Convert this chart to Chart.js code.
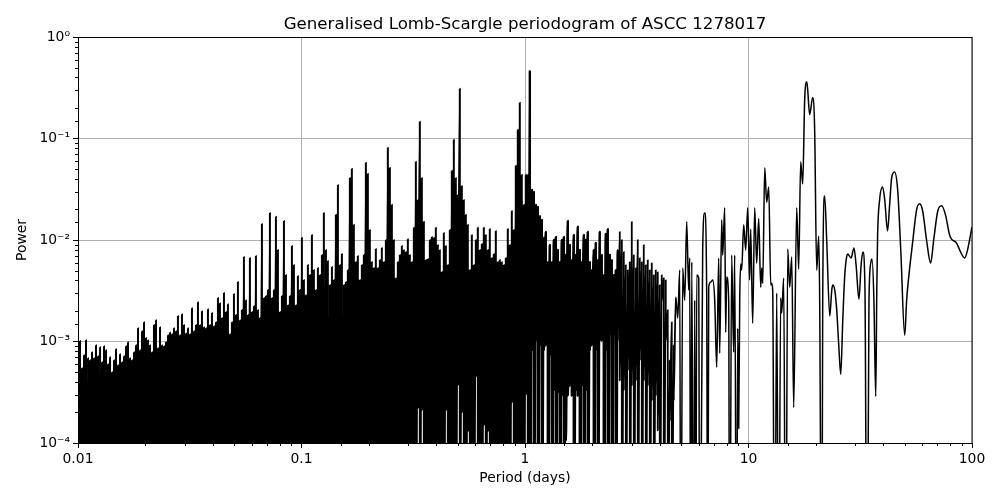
<!DOCTYPE html>
<html><head><meta charset="utf-8">
<style>html,body{margin:0;padding:0;background:#fff}canvas{display:block}</style>
<script src="https://cdn.jsdelivr.net/npm/chart.js@4"></script>
</head><body><canvas id="c" width="1000" height="500"></canvas>
<script>
const titleText = "Generalised Lomb-Scargle periodogram of ASCC 1278017";
const xLabel = "Period (days)";
const yLabel = "Power";
const xTickLabels = {"-2":"0.01","-1":"0.1","0":"1","1":"10","2":"100"};
const yTickLabels = {"-4":"10\u207B\u2074","-3":"10\u207B\u00B3","-2":"10\u207B\u00B2","-1":"10\u207B\u00B9","0":"10\u2070"};
const belowAxis = 1e-6;

const periodsA = [
.01000,.01021,.01042,.01064,.01086,
.01109,.01132,.01155,.01179,.01204,
.01229,.01255,.01281,.01307,.01335,
.01362,.01391,.01420,.01449,.01479,
.01510,.01541,.01574,.01606,.01640,
.01674,.01709,.01744,.01781,.01818,
.01855,.01894,.01933,.01974,.02015,
.02056,.02099,.02143,.02187,.02233,
.02279,.02327,.02375,.02424,.02475,
.02526,.02579,.02632,.02687,.02743,
.02800,.02858,.02918,.02979,.03041,
.03104,.03169,.03235,.03302,.03371,
.03441,.03513,.03586,.03661,.03737,
.03814,.03894,.03975,.04057,.04142,
.04228,.04316,.04406,.04498,.04592,
.04686,.04784,.04883,.04985,.05089,
.05194,.05302,.05413,.05525,.05640,
.05758,.05877,.06000,.06125,.06252,
.06382,.06515,.06651,.06789,.06931,
.07075,.07222,.07373,.07526,.07683,
.07843,.08006,.08173,.08344,.08518,
.08692,.08873,.09058,.09247,.09440];
const peaksA = [
.00103,.00101,.000544,.000732,.00103,
.000684,.000653,.000783,.000684,.000919,
.000715,.000879,.000624,.000899,.00082,
.000596,.0007,.000497,.000653,.00084,
.000583,.000749,.000624,.000715,.000899,
.000984,.000684,.000653,.000783,.000919,
.00135,.00082,.00126,.00155,.00108,
.00103,.000919,.000783,.00145,.00162,
.000859,.00138,.000919,.000899,.000984,
.00115,.00123,.00118,.00135,.00126,
.00178,.00115,.00186,.00145,.0012,
.00135,.00118,.00213,.00126,.00145,
.00244,.00145,.00199,.00138,.00135,
.00208,.00145,.00191,.00141,.00155,
.00268,.00238,.0017,.003,.00195,
.00233,.00118,.00155,.00293,.00182,
.00385,.00162,.00204,.0068,.00255,
.00182,.00665,.00195,.00222,.00695,
.00204,.0017,.0144,.00268,.0028,
.00321,.0185,.00268,.00321,.0169,
.00797,.00195,.0028,.0154,.00451,
.00228,.0028,.00873,.00566,.00228];

const periodsB = [
.09635,.09836,.1004,.1025,.1046,
.1068,.1090,.1113,.1136,.1160,
.1184,.1209,.1234,.1259,.1286,
.1312,.1340,.1368,.1396,.1425,
.1455,.1485,.1516,.1548,.1580,
.1612,.1646,.1680,.1715,.1751,
.1787,.1824,.1862,.1901,.1941,
.1981,.2022,.2064,.2107,.2151,
.2196,.2242,.2288,.2336,.2385,
.2434,.2485,.2537,.2589,.2643,
.2698,.2754,.2812,.2870,.2930,
.2991,.3053,.3117,.3182];
const peaksB = [
.00441,.00321,.0105,.00403,.00286,
.00566,.00451,.0112,.00505,.00321,
.00529,.00451,.00711,.0185,.00797,
.0062,.0036,.00541,.00403,.0177,
.0349,.00566,.00728,.0036,.00385,
.00505,.0409,.0503,.0141,.00606,
.00695,.00403,.00566,.00711,.0576,
.0449,.01256,.00606,.00529,.00815,
.00529,.00634,.00834,.00606,.01,
.081,.0514,.0222,.01,.00421,
.00606,.00711,.00873,.00797,.00762,
.0102,.00711,.00606,.0132];

const periodsD = [
.3248,.3315,.3384,.3455,.3527,.3600,
.3675,.3752,.3830,.3910,.3991,
.4073,.4158,.4245,.4333,.4423,
.4515,.4609,.4705,.4803,.4903,
.5005,.5109,.5216,.5324,.5436,
.5548,.5664,.5782,.5902,.6025,
.6150,.6278,.6409,.6542,.6678,
.6817,.6959,.7104,.7252,.7403,
.7556,.7713,.7874,.8038,.8205,
.8376,.8550,.8729,.8910,.9096,
.9285,.9478,.9676,.9877,1.008,
1.029,1.051];
const peaksD = [
.0589,.0248,.146,.0409,.0151,.00634,
.00649,.01,.0107,.0105,.0132,
.00893,.00797,.00483,.0117,.00873,
.00566,.01256,.048,.0972,.0409,
.0278,.31,.0341,.0248,.0177,
.0141,.00505,.0112,.00566,.01,
.0132,.00797,.00913,.0132,.0112,
.00797,.0128,.00665,.00728,.0123,
.00606,.00634,.00606,.00566,.00665,
.0128,.00893,.0193,.01256,.0538,
.122,.225,.0439,.0222,.0439,
.0439,.467];
const dipsD = [
1e-6,2.2e-4,1e-6,2.1e-4,1e-6,1e-6,
1e-6,1e-6,1e-6,1e-6,1e-6,
1e-6,1e-6,1e-6,1e-6,2.1e-4,
1e-6,1e-6,1e-6,1e-6,1e-6,
3.7e-4,1e-6,2e-4,1e-6,1e-6,
1.3e-4,1e-6,1e-6,1e-6,4.5e-4,
1e-6,1e-6,1e-6,1.5e-4,1e-6,
1.3e-4,1e-6,1e-6,1e-6,1e-6,
1e-6,1e-6,1e-6,1e-6,1e-6,
1e-6,1e-6,2.5e-4,1e-6,1e-6,
1e-6,1e-6,1e-6,1e-6,3e-4,
1e-6,1e-6];

const periodsC = [
1.073,1.095,1.118,
1.141,1.165,1.189,1.214,1.239,
1.265,1.291,1.318,1.346,1.374,
1.402,1.431,1.461,1.492,1.523,
1.554,1.586,1.620,1.653,1.688,
1.722,1.758,1.795,1.832,1.870,
1.909,1.949,1.989,2.031,2.073,
2.116,2.160,2.205,2.251,2.298,
2.346,2.395,2.444,2.495,2.547,
2.601,2.655,2.711,2.767,2.825,
2.883,2.943,3.004,3.067,3.131,
3.195,3.262,3.330,3.399,3.470,
3.542,3.616,3.691,3.768,3.846,
3.926,4.008,4.091,4.176,4.263,
4.352,4.443,4.535,4.630];
const peaksC = [
.0312,.0297,.0222,
.0212,.0172,.0158,.0105,.012,
.00606,.00893,.00606,.01,.0107,
.00797,.00606,.01,.0107,.00711,
.0154,.00893,.00634,.0112,.00711,
.0135,.00797,.00606,.0112,.01,
.012,.00606,.00505,.00797,.00933,
.00634,.012,.00711,.00451,.0115,
.0128,.00711,.00634,.00451,.00505,
.00797,.012,.01,.00762,.00566,
.00505,.00606,.0151,.00711,.00529,
.01,.00665,.00606,.00893,.00566,
.00634,.00505,.00592,.00451,.00505,
.00483,.0036,.00451,.00421,.00403,
.00204,.000653,.00155,.000919];
const dipsC = [
.00082,1e-6,.00103,
1e-6,.000919,1e-6,.00082,.000919,
1e-6,.000732,1e-6,.00033,1e-6,
.000315,1e-6,.000294,1e-6,.000106,
.000294,.000369,.000294,1e-6,.00033,
.000294,1e-6,.000369,1e-6,.00033,
1e-6,.00082,.000919,1e-6,.00082,
1e-6,.00103,.00103,1e-6,.00082,
1e-6,.00115,1e-6,.00115,1e-6,
.00103,.000414,1e-6,.00033,1e-6,
.00052,1e-6,.000369,1e-6,.000414,
1e-6,.000653,1e-6,.000414,1e-6,
.000369,1e-6,.000263,1e-6,.000294,
.000133,1e-6,.00255,1e-6,.00103,
1e-6,.000167,1e-6,.000263];

const periodsTail = [
4.726,4.824,4.924,4.975,5.078,5.183,5.291,5.401,5.456,5.513,5.573,5.688,5.746,5.806,5.866,5.988,6.05,
6.238,6.367,6.50,6.57,6.637,6.775,6.916,7.06,7.207,7.357,7.433,7.587,7.665,7.825,7.905,7.987,8.153,8.237,
8.408,8.583,8.672,8.852,8.948,9.04,9.134,9.228,9.32,9.517,9.714,9.919,10.12,10.23,10.44,10.66,10.88,11.11,
11.34,11.46,11.58,11.82,12.06,12.32,12.57,12.70,12.83,13.10,13.37,13.65,13.93,14.08,14.37,14.67,14.98,15.29,
15.61,15.93,16.43,16.77,17.12,17.48,17.84,18.22,18.40,18.78,19.37,19.77,20.19,20.61,20.82,21.26,21.48,21.92,
22.38,23.1,23.58,23.82,24.32,24.82,25.34,25.87,26.41,26.96,27.52,27.8,28.76,29.65,30.3,31.2,31.9,32.5,33.2,
33.9,34.6,35.3,35.7,36.4,37.1,37.5,37.8,38.6,39.8,40.7,41.9,42.8,43.7,45.0,46.5,48.0,50.0,51.0,52.1,54.2,
56.5,58.3,60.2,62.6,65.3,67.4,70.2,73.1,76.1,79.4,81.0,85.3,88.9,92.7,95.5,100];
const powerTail = [
.00274,.0017,.00505,1e-6,.00529,.00255,.0151,.00321,.00665,1e-6,.00606,1e-6,.00255,1e-6,.00451,.00421,1e-6,
.00797,.0185,.00306,1e-6,.00343,.00385,.00403,.00255,.000557,.00665,.000765,.0158,.00711,.0208,.00123,.00431,.00255,1e-6,
.00711,.000783,.00711,1e-6,.00135,.000139,.00255,.00579,.00505,.0141,.00797,.0208,.00403,.0128,.00151,.0208,.00592,.0163,
.00343,.00529,.00375,.0514,.0235,.0332,.0036,.00375,.00321,1e-6,.003,1e-6,.00268,.00191,.00421,1e-6,.00815,.00343,
.0068,.000224,.0208,.00517,.0589,.0356,.242,.363,.302,.172,.253,.122,.00505,.0109,.00255,1e-6,.00255,.0271,
.01,.00178,.00321,.0036,.00321,.00204,.000919,.000475,.00162,.00451,.00695,.00728,.00665,.00834,.00566,.00261,.00566,.00762,.00321,
1e-6,.00255,.00606,.00649,.00255,.000287,.00321,.0107,.0248,.0332,.0248,.0123,.0222,.0409,.0468,.0312,.00797,.00115,.00255,.00431,.00933,
.0198,.0227,.0191,.01,.00592,.01,.0191,.0217,.0177,.0112,.0102,.00933,.00762,.00665,.00797,.0135];

const points = [];
function addColumns(periods, peaks, dips) {
  periods.forEach((p, i) => {
    points.push({x: p, y: peaks[i]});
    points.push({x: p, y: dips ? dips[i] : belowAxis});
  });
}
addColumns(periodsA, peaksA);
addColumns(periodsB, peaksB);
addColumns(periodsD, peaksD, dipsD);
addColumns(periodsC, peaksC, dipsC);
periodsTail.forEach((p, i) => points.push({x: p, y: powerTail[i]}));

const decade = v => { const m = Math.log10(v); return Math.abs(m - Math.round(m)) < 1e-6 ? Math.round(m) : null; };
const font = {family: "'DejaVu Sans'", size: 13.9};
const gridColor = "#b0b0b0";

const frame = {
  id: "frame",
  afterDraw(chart) {
    const {ctx, chartArea: a, scales} = chart;
    ctx.save();
    ctx.strokeStyle = "#000"; ctx.lineWidth = 1;
    ctx.beginPath();
    scales.x.ticks.forEach(t => {
      if (decade(t.value) === null) {
        const px = Math.round(scales.x.getPixelForValue(t.value)) + 0.5;
        ctx.moveTo(px, a.bottom); ctx.lineTo(px, a.bottom + 3);
      }
    });
    scales.y.ticks.forEach(t => {
      if (decade(t.value) === null) {
        const py = Math.round(scales.y.getPixelForValue(t.value)) + 0.5;
        ctx.moveTo(a.left, py); ctx.lineTo(a.left - 3, py);
      }
    });
    ctx.stroke();
    ctx.strokeRect(a.left + 0.5, a.top + 0.5, a.right - a.left - 1 + 0.5, a.bottom - a.top);
    ctx.restore();
  }
};

new Chart(document.getElementById("c"), {
  type: "line",
  data: {datasets: [{
    data: points,
    borderColor: "#000",
    backgroundColor: "#000",
    borderWidth: 2,
    borderJoinStyle: "round",
    pointRadius: 0,
    fill: false,
    cubicInterpolationMode: "monotone",
    segment: {borderWidth: c => c.p0.parsed.x < 1.05 ? 2 : c.p0.parsed.x < 2.6 ? 2.4 : c.p0.parsed.x < 4.7 ? 1.8 : 1.5}
  }]},
  plugins: [frame],
  options: {
    responsive: false,
    animation: false,
    devicePixelRatio: 1,
    layout: {padding: {left: 0, right: 28, top: 0, bottom: 0}},
    plugins: {
      legend: {display: false},
      tooltip: {enabled: false},
      title: {display: true, text: titleText, color: "#000", fullSize: false,
        font: {family: "'DejaVu Sans'", size: 16.67, weight: "normal"},
        padding: {top: 15, bottom: 2}}
    },
    scales: {
      x: {
        type: "logarithmic", min: 0.01, max: 100,
        afterFit(s) { s.height = 57; },
        grid: {color: c => decade(c.tick.value) !== null ? gridColor : "transparent", lineWidth: 1,
               tickColor: c => decade(c.tick.value) !== null ? "#000" : "transparent", tickLength: 5},
        border: {display: false},
        ticks: {color: "#000", font, padding: 3, autoSkip: false, maxRotation: 0,
                callback: v => { const d = decade(v); return d === null ? "" : xTickLabels[d]; }},
        title: {display: true, text: xLabel, color: "#000", font, padding: {top: 3, bottom: 13}}
      },
      y: {
        type: "logarithmic", min: 1e-4, max: 1,
        afterFit(s) { s.width = 78; },
        grid: {color: c => decade(c.tick.value) !== null ? gridColor : "transparent", lineWidth: 1,
               tickColor: c => decade(c.tick.value) !== null ? "#000" : "transparent", tickLength: 5},
        border: {display: false},
        ticks: {color: "#000", font, padding: 3, autoSkip: false,
                callback: v => { const d = decade(v); return d === null ? "" : yTickLabels[d]; }},
        title: {display: true, text: yLabel, color: "#000", font, padding: {top: 14, bottom: 4}}
      }
    }
  }
});
</script></body></html>
